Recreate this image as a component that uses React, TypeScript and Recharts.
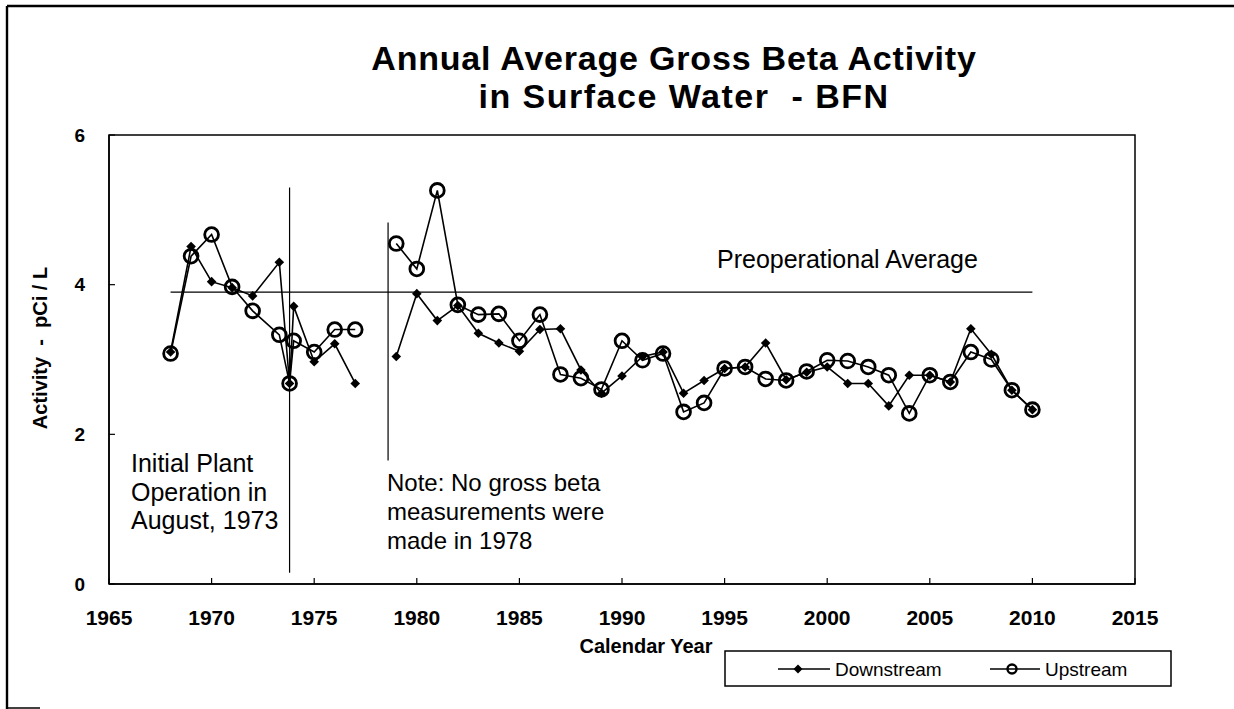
import { LineChart, Line, XAxis, YAxis, ReferenceLine } from 'recharts';

// annual averages, pCi/L (1973 split at plant startup, no data for 1978)
const years = [
  1968, 1969, 1970, 1971, 1972, 1973.3, 1973.8, 1974, 1975, 1976, 1977, 1978,
  1979, 1980, 1981, 1982, 1983, 1984, 1985, 1986, 1987, 1988, 1989, 1990,
  1991, 1992, 1993, 1994, 1995, 1996, 1997, 1998, 1999, 2000, 2001, 2002,
  2003, 2004, 2005, 2006, 2007, 2008, 2009, 2010,
];
const downstream = [
  3.1, 4.51, 4.04, 3.96, 3.85, 4.3, 2.68, 3.71, 2.97, 3.21, 2.68, null,
  3.04, 3.88, 3.52, 3.72, 3.35, 3.22, 3.11, 3.4, 3.41, 2.86, 2.55, 2.78,
  3.04, 3.1, 2.55, 2.72, 2.88, 2.9, 3.22, 2.73, 2.83, 2.9, 2.68, 2.68,
  2.38, 2.79, 2.79, 2.7, 3.41, 3.07, 2.59, 2.33,
];
const upstream = [
  3.08, 4.38, 4.67, 3.97, 3.65, 3.33, 2.68, 3.25, 3.1, 3.4, 3.4, null,
  4.55, 4.21, 5.26, 3.73, 3.6, 3.61, 3.25, 3.6, 2.8, 2.75, 2.6, 3.25,
  2.99, 3.08, 2.3, 2.42, 2.88, 2.9, 2.74, 2.72, 2.84, 2.99, 2.98, 2.9,
  2.79, 2.28, 2.79, 2.7, 3.1, 3.0, 2.59, 2.33,
];
const seriesNames = ['Downstream', 'Upstream'];
const xTicks = [1965, 1970, 1975, 1980, 1985, 1990, 1995, 2000, 2005, 2010, 2015];
const yTicks = [0, 2, 4, 6];
const preopAverage = 3.9;
const preopSpan = [1968, 2010];
const startupYear = 1973.8;
const startupLine = [0.15, 5.3];
const gapYear = 1978.6;
const gapLine = [1.65, 4.83];

const rows = years.map((year, i) => ({ year, down: downstream[i], up: upstream[i] }));

const FONT = '"Liberation Sans", Arial, Helvetica, sans-serif';

const Diamond = (props: any) => {
  const { cx, cy, index } = props;
  if (cx == null || cy == null || Number.isNaN(cy)) return <g key={`d${index}`} />;
  const r = 4.8;
  return (
    <path
      key={`d${index}`}
      d={`M${cx},${cy - r}L${cx + r},${cy}L${cx},${cy + r}L${cx - r},${cy}Z`}
      fill="#000"
    />
  );
};

const Ring = (props: any) => {
  const { cx, cy, index } = props;
  if (cx == null || cy == null || Number.isNaN(cy)) return <g key={`u${index}`} />;
  return <circle key={`u${index}`} cx={cx} cy={cy} r={6.9} fill="none" stroke="#000" strokeWidth={2.8} />;
};

const tickStyle = { fill: '#000', fontSize: 21, fontWeight: 700, fontFamily: FONT };

export default function App() {
  return (
    <div style={{ position: 'absolute', left: 0, top: 0, width: 1234, height: 709, background: '#fff', overflow: 'hidden' }}>
      <LineChart width={1234} height={709} data={rows} margin={{ top: 135, right: 99, bottom: 95, left: 49 }}>
        <XAxis
          dataKey="year"
          type="number"
          domain={[1965, 2015]}
          ticks={xTicks}
          interval={0}
          height={30}
          tickSize={-6}
          tickMargin={32}
          tick={tickStyle}
          axisLine={{ stroke: '#000', strokeWidth: 1.5 }}
          tickLine={{ stroke: '#000', strokeWidth: 1.2 }}
        />
        <YAxis
          type="number"
          domain={[0, 6]}
          ticks={yTicks}
          interval={0}
          width={60}
          tickSize={-6}
          tickMargin={30}
          tick={{ ...tickStyle, fontSize: 19 }}
          axisLine={{ stroke: '#000', strokeWidth: 1.5 }}
          tickLine={{ stroke: '#000', strokeWidth: 1.2 }}
        />
        <ReferenceLine
          segment={[{ x: preopSpan[0], y: preopAverage }, { x: preopSpan[1], y: preopAverage }]}
          stroke="#000"
          strokeWidth={1.4}
        />
        <ReferenceLine
          segment={[{ x: startupYear, y: startupLine[0] }, { x: startupYear, y: startupLine[1] }]}
          stroke="#000"
          strokeWidth={1.2}
        />
        <ReferenceLine
          segment={[{ x: gapYear, y: gapLine[0] }, { x: gapYear, y: gapLine[1] }]}
          stroke="#000"
          strokeWidth={1.2}
        />
        <Line
          dataKey="down"
          name={seriesNames[0]}
          stroke="#000"
          strokeWidth={1.6}
          dot={Diamond}
          activeDot={false}
          connectNulls={false}
          isAnimationActive={false}
        />
        <Line
          dataKey="up"
          name={seriesNames[1]}
          stroke="#000"
          strokeWidth={1.6}
          dot={Ring}
          activeDot={false}
          connectNulls={false}
          isAnimationActive={false}
        />
      </LineChart>

      <svg
        width={1234}
        height={709}
        style={{ position: 'absolute', left: 0, top: 0, pointerEvents: 'none' }}
        fontFamily={FONT}
      >
        {/* outer frame */}
        <line x1={7} y1={6} x2={7} y2={709} stroke="#000" strokeWidth={2.4} />
        <line x1={7} y1={6} x2={1234} y2={6} stroke="#000" strokeWidth={2.4} />
        <line x1={7} y1={708} x2={40} y2={708} stroke="#000" strokeWidth={1.5} />
        {/* plot box */}
        <rect x={109} y={135} width={1026} height={449} fill="none" stroke="#000" strokeWidth={1.5} />

        <text x={674} y={70} textAnchor="middle" fontSize={34} fontWeight={700} letterSpacing={0.8}>
          Annual Average Gross Beta Activity
        </text>
        <text
          x={684}
          y={108}
          textAnchor="middle"
          fontSize={34}
          fontWeight={700}
          letterSpacing={1.5}
          style={{ whiteSpace: 'pre' }}
        >
          {'in Surface Water  - BFN'}
        </text>

        <text
          x={47}
          y={348}
          textAnchor="middle"
          fontSize={20}
          fontWeight={700}
          transform="rotate(-90 47 348)"
          style={{ whiteSpace: 'pre' }}
        >
          {'Activity  -  pCi / L'}
        </text>
        <text x={646} y={653} textAnchor="middle" fontSize={20} fontWeight={700}>
          Calendar Year
        </text>

        <text x={717} y={268} fontSize={25}>Preoperational Average</text>

        <text x={131} y={472} fontSize={25}>Initial Plant</text>
        <text x={131} y={501} fontSize={25}>Operation in</text>
        <text x={131} y={529} fontSize={25}>August, 1973</text>

        <text x={387} y={491} fontSize={24}>Note: No gross beta</text>
        <text x={387} y={520} fontSize={24}>measurements were</text>
        <text x={387} y={549} fontSize={24}>made in 1978</text>

        {/* legend */}
        <rect x={725} y={651} width={446} height={35} fill="#fff" stroke="#000" strokeWidth={1.5} />
        <line x1={778} y1={669} x2={830} y2={669} stroke="#000" strokeWidth={1.6} />
        <path d="M798,664.5L802.5,669L798,673.5L793.5,669Z" fill="#000" />
        <text x={835} y={676} fontSize={19}>{seriesNames[0]}</text>
        <line x1={990} y1={669} x2={1040} y2={669} stroke="#000" strokeWidth={1.6} />
        <circle cx={1012} cy={669} r={4.5} fill="none" stroke="#000" strokeWidth={2.4} />
        <text x={1045} y={676} fontSize={19}>{seriesNames[1]}</text>
      </svg>
    </div>
  );
}
